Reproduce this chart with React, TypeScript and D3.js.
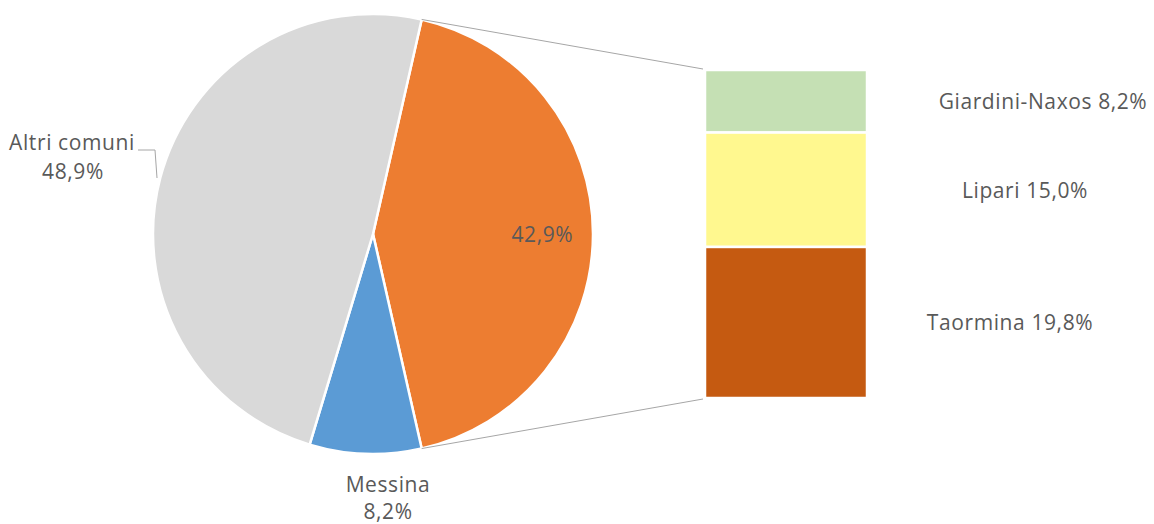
import React from "react";
import * as d3 from "d3";

const mainLabels = ["Altri", "Messina", "Altri comuni"];
const mainValues = [42.9, 8.2, 48.9];
const mainColors = ["#ED7D31", "#5B9BD5", "#D9D9D9"];

const subLabels = ["Giardini-Naxos", "Lipari", "Taormina"];
const subValues = [8.2, 15.0, 19.8];
const subColors = ["#C5E0B4", "#FFF88F", "#C55A11"];

const W = 1154;
const H = 524;
const cx = 373;
const cy = 234;
const R = 220;
const barX = 705;
const barW = 162;
const barTop = 70;
const barBottom = 398;
const subLabelX = [1043, 1025, 1010];
const FONT = "'Open Sans', sans-serif";
const TXT = "#595959";
const FS = 21;
const LS = 0.6;

const fmt = (v: number) => v.toFixed(1).replace(".", ",") + "%";

export default function App() {
  const total = d3.sum(mainValues);
  const otherAngle = (mainValues[0] / total) * 2 * Math.PI;
  const start = Math.PI / 2 - otherAngle / 2;
  const pie = d3
    .pie<number>()
    .sort(null)
    .startAngle(start)
    .endAngle(start + 2 * Math.PI);
  const arcs = pie(mainValues);
  const arc = d3.arc<d3.PieArcDatum<number>>().innerRadius(0).outerRadius(R);

  const subTotal = d3.sum(subValues);
  const y = d3.scaleLinear().domain([0, subTotal]).range([barTop, barBottom]);
  const cum = subValues.map((_, i) => d3.sum(subValues.slice(0, i)));

  const oa = arcs[0];
  const pt = (a: number): [number, number] => [cx + R * Math.sin(a), cy - R * Math.cos(a)];
  const [tx, ty] = pt(oa.startAngle);
  const [bx, by] = pt(oa.endAngle);

  const midOther = (oa.startAngle + oa.endAngle) / 2;
  const otherLabel: [number, number] = [cx + R * 0.77 * Math.sin(midOther), cy - R * 0.77 * Math.cos(midOther)];

  const tp = { dominantBaseline: "central" as const, fontSize: FS, fill: TXT, letterSpacing: LS };

  return (
    <svg width={W} height={H} style={{ display: "block", position: "absolute", left: 0, top: 0 }} fontFamily={FONT}>
      <rect width={W} height={H} fill="#fff" />
      <g transform={`translate(${cx},${cy})`}>
        {arcs.map((a, i) => (
          <path key={i} d={arc(a) || ""} fill={mainColors[i]} stroke="#fff" strokeWidth={2.5} />
        ))}
      </g>
      {/* connectors */}
      <line x1={tx} y1={ty} x2={barX - 2} y2={y(0) - 1} stroke="#a6a6a6" strokeWidth={1} />
      <line x1={bx} y1={by} x2={barX - 2} y2={y(subTotal) + 1} stroke="#a6a6a6" strokeWidth={1} />
      {/* bar of pie */}
      {subValues.map((v, i) => (
        <rect
          key={i}
          x={barX}
          y={y(cum[i])}
          width={barW}
          height={y(cum[i] + v) - y(cum[i])}
          fill={subColors[i]}
          stroke="#fff"
          strokeWidth={2.5}
        />
      ))}
      {subValues.map((v, i) => (
        <text key={i} x={subLabelX[i]} y={(y(cum[i]) + y(cum[i] + v)) / 2} textAnchor="middle" {...tp}>
          {subLabels[i]} {fmt(v)}
        </text>
      ))}
      {/* main labels */}
      <text x={otherLabel[0]} y={otherLabel[1]} textAnchor="middle" {...tp}>
        {fmt(mainValues[0])}
      </text>
      <text x={388} y={484} textAnchor="middle" {...tp}>
        {mainLabels[1]}
      </text>
      <text x={388} y={511} textAnchor="middle" {...tp}>
        {fmt(mainValues[1])}
      </text>
      <text x={72} y={142} textAnchor="middle" {...tp}>
        {mainLabels[2]}
      </text>
      <text x={73} y={171} textAnchor="middle" {...tp}>
        {fmt(mainValues[2])}
      </text>
      <polyline points="138,150 155,150 157,178" fill="none" stroke="#a6a6a6" strokeWidth={1} />
    </svg>
  );
}
